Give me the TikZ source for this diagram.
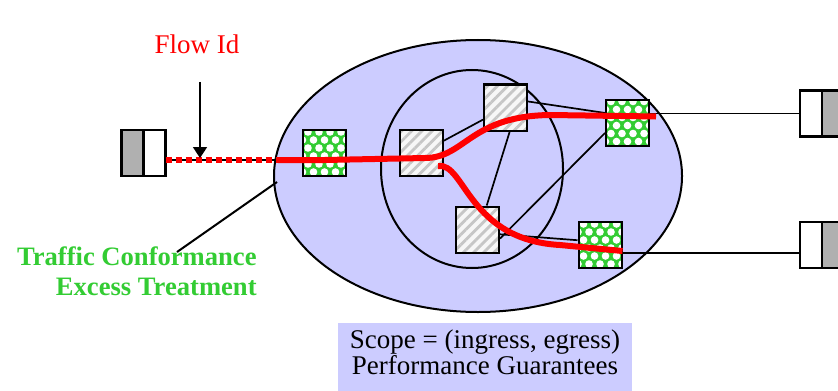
\documentclass[tikz,border=0pt]{standalone}
\usepackage{fontspec}
\setmainfont{Liberation Serif}
\usetikzlibrary{arrows.meta,patterns.meta,positioning}
\definecolor{scopeblue}{RGB}{204,204,255}
\definecolor{flowred}{RGB}{255,0,0}
\definecolor{markgreen}{RGB}{51,204,51}
\definecolor{queuegray}{RGB}{176,176,176}
\newcommand{\diagfont}{\fontsize{13.5}{13}\selectfont}
\begin{document}
\begin{tikzpicture}
	[x=0.5pt,y=-0.5pt,
	edgebox/.style={draw,line width=1pt,fill=markgreen,minimum width=21.5pt,minimum height=23pt,inner sep=0pt,
		path picture={
			\foreach \r in {0,...,6}
				\foreach \c in {-1,...,4}
					\fill[white] ([xshift={\c*5.5pt+mod(\r,2)*2.75pt+2.5pt},yshift={-\r*4pt-1pt}]path picture bounding box.north west) circle (1.9pt);
		}},
	corebox/.style={draw,line width=1pt,minimum width=21.5pt,minimum height=23pt,inner sep=0pt,
		preaction={fill=gray!6},pattern={Lines[angle=45,distance=3.6pt,line width=1.4pt]},pattern color=gray!45},
	cell/.style={draw,line width=1.3pt,minimum width=11pt,minimum height=23pt,inner sep=0pt,outer sep=0pt},
	link/.style={line width=0.85pt},
	flow/.style={flowred,line width=3pt}]
	\useasboundingbox (0,0) rectangle (838,390);
	% domain
	\draw[line width=1pt,fill=scopeblue] (478,176) ellipse [x radius=204,y radius=136];
	\draw[line width=1pt] (472,169) ellipse [x radius=91,y radius=99];
	% routers
	\node[edgebox] (ing) at (324.5,153) {};
	\node[corebox] (A) at (421,153) {};
	\node[corebox] (B) at (505.5,107.5) {};
	\node[corebox] (C) at (477.5,229.5) {};
	\node[edgebox] (D) at (627.5,122.5) {};
	\node[edgebox] (E) at (600,245) {};
	% hosts
	\node[cell,fill=queuegray] (lq1) at (132.5,153) {};
	\node[cell,fill=white,right=0pt of lq1] (lq2) {};
	\node[cell,fill=white] (rq1) at (811,113.5) {};
	\node[cell,fill=queuegray,right=0pt of rq1] (rq1b) {};
	\node[cell,fill=white] (rq2) at (811,245) {};
	\node[cell,fill=queuegray,right=0pt of rq2] (rq2b) {};
	% links
	\draw[link] (A) -- (B);
	\draw[link] (B.15) -- (D.157);
	\draw[link] (B.-80) -- (C.69);
	\draw[link] (C.-22) -- (D.205);
	\draw[link] (C.-12) -- (E.168);
	\draw[link] (rq1.west -| D.east) -- (rq1.west);
	\coordinate (r2in) at ([yshift=-4pt]rq2.west);
	\draw[link] (r2in -| E.east) -- (r2in);
	\coordinate (entry) at (278,160);
	\draw[link] (lq2.east |- entry) -- (entry -| ing.west);
	\draw[flowred,line width=2.6pt,dash pattern=on 3pt off 2pt] (lq2.east |- entry) -- (entry);
	% flow
	\coordinate (split) at (438,166);
	\draw[flow] (entry) -- (ing.center |- entry) -- (425,158) .. controls (465,158) and (470,116) .. (550,115) -- ([xshift=3pt,yshift=3pt]D.east);
	\draw[flow] (split) .. controls (465,162) and (468,240) .. (560,245) -- ([yshift=-3pt]E.east);
	% labels
	\node[flowred,font=\diagfont] (flowid) at (197,44) {Flow Id};
	\coordinate (tapfrom) at (200,82);
	\coordinate (tap) at (200,158);
	\draw[link,-{Triangle[width=7pt,length=5.5pt]}] (tapfrom) -- (tap);
	\node[markgreen,font=\bfseries\fontsize{13.3}{15}\selectfont,align=right,anchor=base east,inner sep=0pt] (tcet) at (257,295) {Traffic Conformance\\Excess Treatment};
	\coordinate (rim) at (277,182);
	\coordinate (tcend) at (177,252);
	\draw[line width=1pt] (rim) -- (tcend);
	\node[fill=scopeblue,minimum width=147pt,minimum height=34pt,text depth=10pt,anchor=north,align=center,font=\diagfont] (scope) at (485,323) {Scope = (ingress, egress)\\Performance Guarantees};
\end{tikzpicture}
\end{document}
